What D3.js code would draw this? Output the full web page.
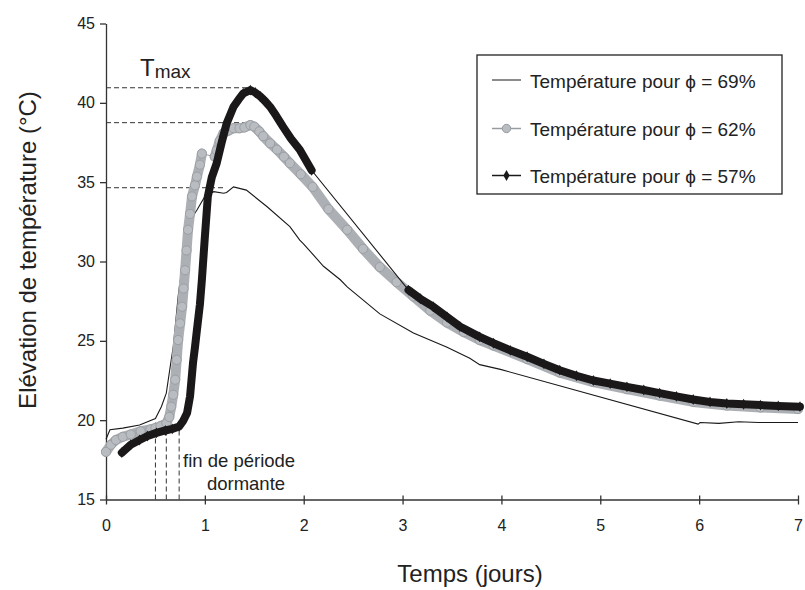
<!DOCTYPE html>
<html>
<head>
<meta charset="utf-8">
<script src="https://cdn.jsdelivr.net/npm/d3@7"></script>
<style>
  body { margin: 0; background: #fff; }
  svg text { font-family: Arial, "Liberation Sans", sans-serif; fill: #222; }
</style>
</head>
<body>
<div id="chart"></div>
<script>
// phi = 69% : thin line
const days69 = [0.00, 0.04, 0.17, 0.34, 0.50, 0.56, 0.61, 0.65, 0.68, 0.73, 0.77, 0.83, 0.92, 1.00, 1.09, 1.19, 1.22, 1.29, 1.42, 1.63, 1.86, 1.96, 2.00, 2.20, 2.37, 2.44, 2.77, 3.11, 3.45, 3.68, 3.78, 3.99, 5.99, 6.01, 6.20, 6.40, 6.60, 6.80, 7.00];
const temp69 = [18.8, 19.4, 19.5, 19.7, 20.1, 20.85, 21.7, 23.4, 24.6, 27.8, 29.7, 32.4, 33.25, 34.1, 34.4, 34.3, 34.35, 34.7, 34.5, 33.45, 32.2, 31.35, 31.1, 29.7, 28.85, 28.4, 26.7, 25.5, 24.6, 23.9, 23.5, 23.2, 19.75, 19.85, 19.8, 19.9, 19.85, 19.85, 19.85];

// phi = 62% : grey circles, two recorded pieces
const days62a = [0.00, 0.05, 0.10, 0.17, 0.25, 0.35, 0.45, 0.50, 0.55, 0.61, 0.64, 0.66, 0.68, 0.70, 0.715, 0.73, 0.75, 0.77, 0.785, 0.80, 0.815, 0.83, 0.85, 0.87, 0.90, 0.92, 0.95, 0.97];
const temp62a = [18.0, 18.45, 18.75, 18.95, 19.1, 19.3, 19.42, 19.5, 19.62, 19.8, 20.2, 20.85, 21.6, 22.55, 23.8, 25.05, 26.1, 27.15, 28.3, 29.45, 30.7, 32.0, 33.0, 34.1, 34.8, 35.35, 36.1, 36.8];
const days62b = [1.10, 1.12, 1.15, 1.19, 1.24, 1.29, 1.35, 1.40, 1.46, 1.50, 1.55, 1.59, 1.66, 1.73, 1.80, 1.86, 1.97, 2.09, 2.25, 2.44, 2.60, 2.77, 2.94, 3.11, 3.28, 3.45, 3.62, 3.78, 3.92, 4.26, 4.59, 4.93, 5.27, 5.60, 5.94, 6.28, 6.62, 7.00];
const temp62b = [36.6, 37.0, 37.6, 38.1, 38.25, 38.4, 38.4, 38.45, 38.6, 38.5, 38.2, 37.9, 37.45, 37.05, 36.6, 36.2, 35.5, 34.7, 33.3, 32.0, 30.8, 29.65, 28.7, 27.8, 26.9, 26.15, 25.55, 25.05, 24.7, 23.85, 23.0, 22.4, 21.95, 21.55, 21.15, 20.92, 20.8, 20.7];

// phi = 57% : black diamonds, two recorded pieces
const days57a = [0.16, 0.25, 0.34, 0.42, 0.51, 0.60, 0.67, 0.74, 0.78, 0.82, 0.85, 0.88, 0.90, 0.92, 0.95, 0.97, 1.00, 1.03, 1.07, 1.12, 1.17, 1.22, 1.29, 1.34, 1.39, 1.46, 1.51, 1.56, 1.61, 1.66, 1.72, 1.79, 1.87, 1.96, 2.02, 2.08];
const temp57a = [17.95, 18.45, 18.75, 19.0, 19.2, 19.35, 19.45, 19.6, 19.95, 20.45, 21.5, 23.6, 24.6, 25.7, 27.3, 28.85, 31.55, 34.1, 35.3, 36.2, 37.5, 38.7, 39.75, 40.2, 40.6, 40.8, 40.65, 40.4, 40.1, 39.75, 39.2, 38.5, 37.75, 37.05, 36.4, 35.75];
const days57b = [3.06, 3.18, 3.31, 3.45, 3.58, 3.78, 3.92, 4.09, 4.26, 4.43, 4.59, 4.76, 4.93, 5.10, 5.27, 5.44, 5.60, 5.77, 5.94, 6.11, 6.28, 6.45, 6.62, 6.80, 7.02];
const temp57b = [28.2, 27.65, 27.15, 26.5, 25.9, 25.25, 24.85, 24.4, 24.0, 23.55, 23.15, 22.8, 22.5, 22.3, 22.1, 21.9, 21.7, 21.5, 21.3, 21.15, 21.05, 21.0, 20.95, 20.9, 20.85];

// Tmax guides and end of dormant period
const tmaxValues = [40.95, 38.75, 34.65];
const tmaxDays = [1.44, 1.46, 1.19];
const dormantDays = [0.50, 0.61, 0.74];
const dormantTemps = [19.85, 19.9, 19.3];

const xTicks = [0, 1, 2, 3, 4, 5, 6, 7];
const yTicks = [15, 20, 25, 30, 35, 40, 45];
const legendLabels = ["Température pour \u03d5 = 69%", "Température pour \u03d5 = 62%", "Température pour \u03d5 = 57%"];

const width = 805, height = 590;
const grey = "#acb0b4", greyEdge = "#979ca1", black = "#1b1819";

const svg = d3.select("#chart").append("svg")
  .attr("width", width)
  .attr("height", height);

const x = d3.scaleLinear().domain([0, 7]).range([106, 798]);
const y = d3.scaleLinear().domain([15, 45]).range([499.5, 23.5]);

function zip(ds, ts) {
  return ds.map((d, i) => ({ d: d, t: ts[i] }));
}
const s69 = zip(days69, temp69);
const s62a = zip(days62a, temp62a), s62b = zip(days62b, temp62b);
const s57a = zip(days57a, temp57a), s57b = zip(days57b, temp57b);

const line = d3.line().x(p => x(p.d)).y(p => y(p.t));

// axes
const yAxis = svg.append("g")
  .attr("transform", `translate(${x(0)},0)`)
  .call(d3.axisLeft(y).tickValues(yTicks).tickSize(6).tickSizeOuter(0).tickPadding(5));
yAxis.selectAll("text").style("font-size", "16px");

const xAxis = svg.append("g")
  .attr("transform", `translate(0,${y(15)})`)
  .call(d3.axisBottom(x).tickValues(xTicks).tickFormat(d3.format("d"))
    .tickSize(5).tickSizeOuter(0).tickPadding(15));
xAxis.selectAll(".tick line").attr("y1", -4);
xAxis.selectAll("text").style("font-size", "16px");
svg.selectAll(".domain, .tick line").attr("stroke", "#333").attr("stroke-width", 1.3);

// dashed guides
svg.selectAll(".tmax").data(tmaxValues).enter().append("line")
  .attr("x1", x(0)).attr("x2", (v, i) => x(tmaxDays[i]))
  .attr("y1", v => y(v)).attr("y2", v => y(v))
  .attr("stroke", "#333").attr("stroke-width", 1).attr("stroke-dasharray", "5,3");
svg.selectAll(".dorm").data(dormantDays).enter().append("line")
  .attr("x1", d => x(d)).attr("x2", d => x(d))
  .attr("y1", y(15)).attr("y2", (d, i) => y(dormantTemps[i]))
  .attr("stroke", "#333").attr("stroke-width", 1).attr("stroke-dasharray", "5,3");

// 69%
svg.append("path").datum(s69).attr("d", line)
  .attr("fill", "none").attr("stroke", black).attr("stroke-width", 1.1);

// 62%
svg.append("path").datum(s62a.concat(s62b)).attr("d", line)
  .attr("fill", "none").attr("stroke", greyEdge).attr("stroke-width", 1);
[s62a, s62b].forEach(seg => {
  svg.append("path").datum(seg).attr("d", line)
    .attr("fill", "none").attr("stroke", grey).attr("stroke-width", 10)
    .attr("stroke-linejoin", "round").attr("stroke-linecap", "round");
  svg.append("g").selectAll("circle").data(seg).enter().append("circle")
    .attr("cx", p => x(p.d)).attr("cy", p => y(p.t)).attr("r", 4.6)
    .attr("fill", "#b9bdc1").attr("stroke", greyEdge).attr("stroke-width", 0.9);
});

// 57%
const diamond = d3.symbol().type(d3.symbolDiamond).size(34);
svg.append("path").datum(s57a.concat(s57b)).attr("d", line)
  .attr("fill", "none").attr("stroke", black).attr("stroke-width", 1.1);
[s57a, s57b].forEach(seg => {
  svg.append("path").datum(seg).attr("d", line)
    .attr("fill", "none").attr("stroke", black).attr("stroke-width", 8)
    .attr("stroke-linejoin", "round").attr("stroke-linecap", "round");
  svg.append("g").selectAll("path").data(seg).enter().append("path")
    .attr("d", diamond)
    .attr("transform", p => `translate(${x(p.d)},${y(p.t)})`)
    .attr("fill", black);
});

// annotations
const tm = svg.append("text").attr("x", 140).attr("y", 76).style("font-size", "24px");
tm.append("tspan").text("T");
tm.append("tspan").attr("dy", 2).style("font-size", "19px").text("max");

svg.append("text").attr("x", 183).attr("y", 467).style("font-size", "18.5px").text("fin de période");
svg.append("text").attr("x", 246).attr("y", 490).attr("text-anchor", "middle")
  .style("font-size", "18.5px").text("dormante");

// axis titles
svg.append("text").attr("x", 470).attr("y", 582).attr("text-anchor", "middle")
  .style("font-size", "24px").text("Temps (jours)");
svg.append("text").attr("transform", "translate(36,250) rotate(-90)")
  .attr("text-anchor", "middle").style("font-size", "24px").text("Elévation de température (°C)");

// legend
const lg = svg.append("g");
lg.append("rect").attr("x", 477).attr("y", 55).attr("width", 305).attr("height", 139)
  .attr("fill", "#fff").attr("stroke", "#222").attr("stroke-width", 1.3);
const rowY = [80, 128.5, 175.5];
legendLabels.forEach((lab, i) => {
  const col = i === 1 ? greyEdge : black;
  lg.append("line").attr("x1", 492).attr("x2", 521).attr("y1", rowY[i]).attr("y2", rowY[i])
    .attr("stroke", col).attr("stroke-width", i === 0 ? 1 : 1.5);
  if (i === 1) {
    lg.append("circle").attr("cx", 506.5).attr("cy", rowY[i]).attr("r", 4.2)
      .attr("fill", "#b9bdc1").attr("stroke", greyEdge);
  }
  if (i === 2) {
    lg.append("path").attr("d", diamond).attr("transform", `translate(506.5,${rowY[i]})`).attr("fill", black);
  }
  lg.append("text").attr("x", 530).attr("y", rowY[i] + 7.5).style("font-size", "19px").text(lab);
});
</script>
</body>
</html>
